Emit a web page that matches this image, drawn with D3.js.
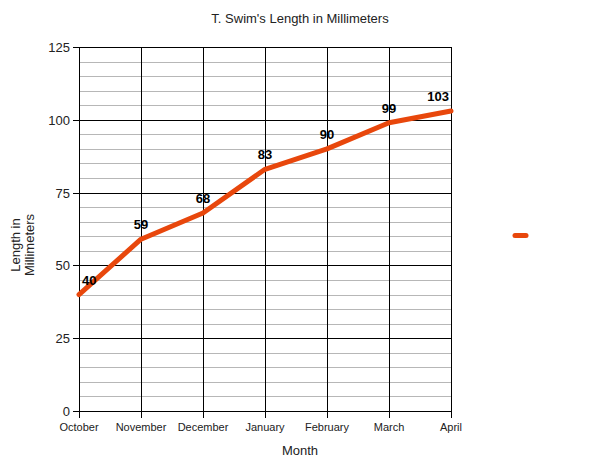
<!DOCTYPE html>
<html>
<head>
<meta charset="utf-8">
<script src="https://cdn.jsdelivr.net/npm/d3@7"></script>
<style>
  body { margin: 0; background: #fff; }
  svg { display: block; font-family: "Liberation Sans", Arial, sans-serif; }
</style>
</head>
<body>
<div id="graf"></div>
<script>
// data
const months = ["October", "November", "December", "January", "February", "March", "April"]
const lengths = [40, 59, 68, 83, 90, 99, 103]
const yTicks = [0, 25, 50, 75, 100, 125]

const width = 600
const height = 463
const margin = ({top: 47, right: 149, bottom: 52, left: 79})

const data = months.map((m, i) => ({month: m, length: lengths[i]}))

const x = d3.scalePoint()
    .domain(months)
    .range([margin.left, width - margin.right])

const y = d3.scaleLinear()
    .domain([0, 125])
    .range([height - margin.bottom, margin.top])

const svg = d3.create("svg")
    .attr("width", width)
    .attr("height", height)
    .attr("viewBox", [0, 0, width, height])

// attach early so text can be measured
d3.select("#graf").append(() => svg.node())

// minor grid every 5
const minor = d3.range(0, 126, 5).filter(v => v % 25 !== 0)
svg.append("g")
    .attr("stroke", "#b7b7b7")
    .attr("stroke-width", 1)
  .selectAll("line")
  .data(minor)
  .join("line")
    .attr("x1", margin.left)
    .attr("x2", width - margin.right)
    .attr("y1", d => Math.round(y(d)) + 0.5)
    .attr("y2", d => Math.round(y(d)) + 0.5)

// major horizontal grid
svg.append("g")
    .attr("stroke", "#000")
  .selectAll("line")
  .data(yTicks)
  .join("line")
    .attr("x1", margin.left - 6)
    .attr("x2", width - margin.right)
    .attr("y1", d => Math.round(y(d)) + 0.5)
    .attr("y2", d => Math.round(y(d)) + 0.5)

// vertical grid
svg.append("g")
    .attr("stroke", "#000")
  .selectAll("line")
  .data(months)
  .join("line")
    .attr("x1", d => Math.round(x(d)) + 0.5)
    .attr("x2", d => Math.round(x(d)) + 0.5)
    .attr("y1", margin.top)
    .attr("y2", height - margin.bottom + 7)

// y axis labels
svg.append("g")
    .attr("font-size", 13)
    .attr("fill", "#222")
    .attr("text-anchor", "end")
  .selectAll("text")
  .data(yTicks)
  .join("text")
    .attr("x", margin.left - 9)
    .attr("y", d => y(d) + 5)
    .text(d => d)

// x axis labels
svg.append("g")
    .attr("font-size", 11)
    .attr("fill", "#222")
    .attr("text-anchor", "middle")
  .selectAll("text")
  .data(months)
  .join("text")
    .attr("x", d => x(d))
    .attr("y", height - margin.bottom + 20)
    .text(d => d)

const line = d3.line().x(d => x(d.month)).y(d => y(d.length))

svg.append("path")
    .attr("fill", "none")
    .attr("stroke", "#e8470c")
    .attr("stroke-width", 5)
    .attr("stroke-linejoin", "round")
    .attr("stroke-linecap", "round")
    .attr("d", line(data))

// point labels, kept inside the plot
const labels = svg.append("g")
    .attr("font-size", 13)
    .attr("font-weight", "bold")
    .attr("fill", "#000")
    .attr("text-anchor", "middle")
  .selectAll("text")
  .data(data)
  .join("text")
    .attr("y", d => y(d.length) - 10)
    .text(d => d.length)
labels.attr("x", function(d) {
  const w = this.getComputedTextLength()
  let cx = x(d.month)
  cx = Math.max(cx, margin.left + w / 2 + 3)
  cx = Math.min(cx, width - margin.right - w / 2 - 2)
  return cx
})

// title
svg.append("text")
    .attr("x", 300)
    .attr("y", 23)
    .attr("text-anchor", "middle")
    .attr("font-size", 13)
    .attr("fill", "#222")
    .text("T. Swim's Length in Millimeters")

// axis titles
svg.append("text")
    .attr("x", 300)
    .attr("y", 455)
    .attr("text-anchor", "middle")
    .attr("font-size", 13)
    .attr("fill", "#222")
    .text("Month")

const yTitle = svg.append("text")
    .attr("transform", `translate(20,245) rotate(-90)`)
    .attr("text-anchor", "middle")
    .attr("font-size", 13)
    .attr("fill", "#222")
yTitle.append("tspan").attr("x", 0).attr("y", 0).text("Length in")
yTitle.append("tspan").attr("x", 0).attr("y", 14).text("Millimeters")

// legend swatch (no label text)
svg.append("line")
    .attr("x1", 515)
    .attr("x2", 526)
    .attr("y1", 235.5)
    .attr("y2", 235.5)
    .attr("stroke", "#e8470c")
    .attr("stroke-width", 5)
    .attr("stroke-linecap", "round")
</script>
</body>
</html>
